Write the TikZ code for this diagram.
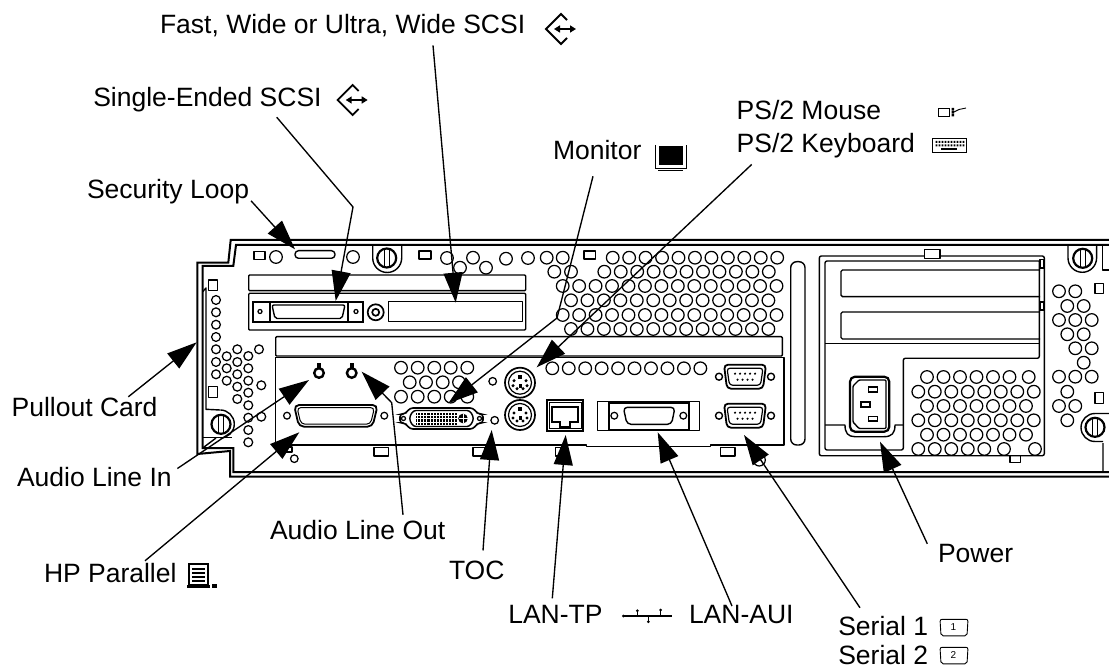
\documentclass[tikz,border=0pt]{standalone}
\usepackage{fontspec}
\setmainfont{Liberation Sans}
\usetikzlibrary{arrows.meta}
\usetikzlibrary{positioning}
\tikzset{>={Triangle[length=30pt,width=19pt]}}
\tikzset{
    lbl/.style={font=\fontsize{26.5}{30}\selectfont, inner sep=0pt, outer sep=0pt, anchor=base west},
    leader/.style={line width=1.35pt, ->},
    body/.style={line width=1.4pt, line join=round},
    thin line/.style={line width=0.9pt},
    hole/.style={line width=1.25pt},
    screwPic/.pic={
        \draw [line width=2.2pt] (0,0) circle (9.5);
        \draw [line width=1.2pt] (-2.5,-9) -- (-2.5,9) (2.5,-9) -- (2.5,9);
    },
    dshell/.pic={
        \draw [line width=1.8pt, rounded corners=4pt] (-21,-12) -- (21,-12) -- (18,12) -- (-18,12) -- cycle;
        \draw [line width=1.2pt, rounded corners=3pt] (-18,-8.5) -- (18,-8.5) -- (15.5,8.5) -- (-15.5,8.5) -- cycle;
        \foreach \x in {-10,-5,0,5,10} \fill (\x,-3) circle (1.2);
        \foreach \x in {-7.5,-2.5,2.5,7.5} \fill (\x,3) circle (1.2);
        \draw [body] (-26,0) circle (3.5) (26,0) circle (3.5);
    },
    ps2/.pic={
        \draw [line width=1.7pt] (0,0) circle (15);
        \draw [line width=1.2pt] (0,0) circle (11.5);
        \fill (-2,-8) rectangle (2,-4);
        \foreach \x/\y in {-6/-2,6/-2,-7/3,7/3,-3/6,3/6} \fill (\x,\y) circle (1.7);
        \fill (-1.5,1) rectangle (1.5,5);
    },
    scsiIcon/.pic={
        \draw [line width=1.8pt, line join=miter] (6,-9) -- (0,-15) -- (-15,0) -- (0,15) -- (6,9);
        \draw [line width=1.8pt, {Triangle[length=6pt,width=7pt]}-{Triangle[length=6pt,width=7pt]}] (-7,0) -- (15,0);
    },
    serialIcon/.pic={
        \draw [thin line, rounded corners=2pt] (-14,-8.5) -- (14,-8.5) -- (13,8) -- (-13,8) -- cycle;
    },
}

\begin{document}
\begin{tikzpicture}[x=1pt, y=-1pt]
    \useasboundingbox (0,0) rectangle (1109,668);

    % chassis
    \draw [line width=2pt, line join=miter] (1109,240) -- (230.7,240) -- (228.3,262.7) -- (197.3,262.7) -- (197.3,454) -- (230,451) -- (230,476.7) -- (1109,476.7);
    \draw [line width=2pt, line join=miter] (1109,245) -- (236,245) -- (233.3,266) -- (202.7,266) -- (202.7,448) -- (233.3,448) -- (233.3,472) -- (1109,472);
    \draw [body] (202.7,291.7) -- (206,288) -- (206,409.3) -- (220,410);
    \draw [body] (203,437.3) -- (232,437.3);
    \draw [body] (220.3,410) arc [start angle=-90, end angle=90, radius=14];
    \draw [body] (216,438) -- (202.7,448);

    % top strip
    \draw [body] (254,251.7) rectangle (265,259.3);
    \draw [body, rounded corners=3.5pt] (295,250.7) rectangle (335,258.3);
    \draw [body] (419,251) rectangle (431,259);
    \draw [body] (584,251) rectangle (595.7,259);
    \foreach \x/\y in {276/257, 353/257, 447/258, 473/257.7, 460/267.7, 486/267.7, 506/258.7, 528/258, 546.7/257.7, 562.7/257.7}
        \draw [hole] (\x,\y) circle (6.3);
    \draw [body] (372.7,245) -- (372.7,258) arc [start angle=180, end angle=0, radius=14.5] -- (401.7,245);
    \pic at (386.7,258) {screwPic};

    % grille
    \foreach \y/\xa/\n in {257.7/612.7/11, 271.7/604.3/11, 286/562.7/14, 300.3/571/13, 315/562.7/14, 329/571/13}
        \foreach \i in {1,...,\n}
            \draw [hole] ({\xa+(\i-1)*16.45},\y) circle (6.3);
    \foreach \x in {554.3,571}
        \draw [hole] (\x,271.7) circle (6.3);

    % card slots
    \draw [body, rounded corners=1pt] (248.7,275) rectangle (525.7,290.7);
    \draw [body, rounded corners=1pt] (248.7,293.3) rectangle (525.7,330);
    \draw [line width=1.8pt] (253.3,301.7) rectangle (362.7,322.3);
    \draw [body, rounded corners=2pt] (272,305) -- (345,305) -- (342,318.5) -- (275,318.5) -- cycle;
    \draw [body] (270,302) -- (270,322) (348,302) -- (348,322);
    \draw [hole] (260,311.5) circle (2) (356,311.5) circle (2);
    \draw [line width=1.7pt] (375.7,312.3) circle (8);
    \draw [line width=1.7pt] (375.7,312.3) circle (3.5);
    \draw [body] (388.3,301.7) rectangle (522.3,321.7);

    % left side holes
    \foreach \x/\y in {216/300, 216/312.3, 216/324.7, 216/337, 216/349.3, 216/362, 216/374.3}
        \draw [hole] (\x,\y) circle (4.4);
    \foreach \x/\y in {237.3/349.3, 259/349.3, 226.7/356.3, 248.3/356, 237.3/362, 226.7/368.3, 248.3/368.3, 237.3/374.3, 226.7/380.7, 248.3/380.7, 237.3/386.7, 261.3/385.3, 248.3/392.7, 237.3/399, 248.3/405.3, 248.3/417.7, 261.3/416.7, 248.3/430, 248.3/442.3}
        \draw [hole] (\x,\y) circle (4.4);
    \draw [body] (208.3,280) rectangle (217.3,290.7);
    \draw [body] (208.3,386.7) rectangle (217.3,397.3);
    \pic at (221,424.3) {screwPic};

    % I/O panel
    \draw [body, rounded corners=1pt] (275.7,336.7) rectangle (782.3,356);
    \draw [body] (275.7,445) -- (275.7,357.7) -- (784,357.7) -- (784,445) -- (710.7,445) -- (710.7,446.7) -- (586.7,446.7) -- (586.7,445) -- cycle;
    \foreach \x in {319,351.7} {
        \draw [line width=2.4pt] (\x,373) circle (4.8);
        \fill (\x-2,363) rectangle (\x+2,368);
    }
    \foreach \y in {367.7,396.7}
        \foreach \x in {401,417.7,434.3,450.7,467.3}
            \draw [hole] (\x,\y) circle (6.3);
    \foreach \x in {409.7,426,442.7,459}
        \draw [hole] (\x,382.3) circle (6.3);
    \foreach \i in {1,...,10}
        \draw [hole] ({552.3+(\i-1)*16.45},368.3) circle (6.3);
    \draw [hole] (492.7,381.3) circle (3.8);
    \draw [hole] (494.7,420.3) circle (3.8);
    % parallel
    \draw [line width=1.8pt, rounded corners=5pt] (294,405) -- (377.7,405) -- (372.5,426.7) -- (299,426.7) -- cycle;
    \draw [line width=1pt, rounded corners=4pt] (297,407.5) -- (374.5,407.5) -- (370.5,424.2) -- (301,424.2) -- cycle;
    \draw [hole] (287,415.7) circle (3.4) (384.3,415.7) circle (3.4);
    % dvi
    \draw [line width=1.6pt, rounded corners=3pt] (410,408) -- (473,408) -- (478,414) -- (483,414) -- (483,423) -- (478,423) -- (473,429) -- (410,429) -- (405,423) -- (400,423) -- (400,414) -- (405,414) -- cycle;
    \draw [body, rounded corners=3pt] (413,410.5) -- (470,410.5) -- (474,418.5) -- (470,426.5) -- (413,426.5) -- (409,418.5) -- cycle;
    \fill (416,412.7) rectangle (457,425);
    \foreach \x in {417.5,420.6,...,456}
        \draw [white, line width=0.7pt] (\x,412.7) -- (\x,425);
    \foreach \y in {415.5,418.8,422.1}
        \draw [white, line width=0.7pt] (416,\y) -- (457,\y);
    \fill (463,418.5) circle (4.8);
    \draw [white, line width=0.8pt] (463,414) -- (463,423) (458.5,418.5) -- (467.5,418.5);
    \draw [hole] (403.5,418.5) circle (2) (479.5,418.5) circle (2);
    % ps/2
    \pic at (520,382.7) {ps2};
    \pic at (520,415) {ps2};
    % rj45
    \draw [line width=2.2pt] (547.3,400) rectangle (583.3,430.7);
    \draw [line width=0.8pt] (549.5,402.5) rectangle (581,428.5);
    \draw [line width=1.7pt] (551.7,406.7) -- (578.3,406.7) -- (578.3,421.7) -- (570,421.7) -- (570,426.7) -- (560,426.7) -- (560,421.7) -- (551.7,421.7) -- cycle;
    % aui
    \draw [body] (597.7,401.7) rectangle (699.3,430.7);
    \draw [line width=1.8pt] (609.3,403) -- (609.3,430) -- (689.3,430) -- (689.3,403) -- cycle;
    \draw [body, rounded corners=4pt] (623.3,407.3) -- (675,407.3) -- (671.5,424.3) -- (627,424.3) -- cycle;
    \draw [hole] (614.3,415.7) circle (3.4) (683.3,415.7) circle (3.4);
    % serial
    \pic at (745,376.7) {dshell};
    \pic at (745,415.7) {dshell};
    % tabs under panel
    \foreach \xa/\xb/\ya/\yb in {285/292/447/452, 374/388.3/447.3/456, 473/485/447.3/456, 555.7/563/447.3/456, 720.7/735/447.3/456}
        \draw [body] (\xa,\ya) rectangle (\xb,\yb);
    \draw [hole] (294.3,458.7) circle (3.8);
    \draw [hole] (759.3,460) circle (6);
    \draw [body, rounded corners=6pt] (790.7,261.7) rectangle (805,445);

    % power supply
    \draw [body, rounded corners=2pt] (819.3,256) rectangle (1044.3,455.7);
    \draw [body, fill=white] (924.3,249.3) rectangle (940,258.3);
    \draw [body] (1010,455.7) rectangle (1020.7,462.3);
    \draw [body, rounded corners=2pt] (1039.3,261) -- (825,261) -- (825,450) -- (903.3,450) -- (903.3,358.3) -- (1039.3,358.3) -- (1039.3,261);
    \draw [body] (825,343.3) -- (1039.3,343.3);
    \draw [body, rounded corners=1.5pt] (1040,270) -- (841,270) -- (841,296.7) -- (1040,296.7);
    \draw [body, rounded corners=1.5pt] (1040,312) -- (841,312) -- (841,339) -- (1040,339);
    \draw [body] (1040,259.5) rectangle (1044,268) (1040,302) rectangle (1044,310);
    \draw [body] (825,425) -- (845,425) .. controls (845,433) and (848,436.7) .. (855,436.7) -- (884,436.7) .. controls (892,436.7) and (895,433) .. (895,425) -- (903.3,425);
    \draw [line width=2.2pt, rounded corners=5pt] (850,376.7) rectangle (889.3,431.7);
    \draw [body, rounded corners=1pt] (859,380) -- (886,380) -- (886,428.5) -- (859,428.5) -- (853,422) -- (853,386) -- cycle;
    \foreach \xa/\ya in {868.3/387.3, 860.7/402, 868.3/416.3}
        \draw [line width=1.6pt] (\xa,\ya) rectangle ++(9,4.7);
    \foreach \y/\xa/\n in {377/927/6, 391.7/918.3/8, 406/927/7, 420.3/918.3/8, 434.7/927/7, 449/918.3/5}
        \foreach \i in {1,...,\n}
            \draw [hole] ({\xa+(\i-1)*16.5},\y) circle (6.3);
    \foreach \x/\y in {1028.7/377, 1004/449, 1035/449}
        \draw [hole] (\x,\y) circle (6.3);

    % right side
    \foreach \x/\y in {1059/291.3, 1075.3/291.3, 1067.3/306, 1083.7/306, 1059/320, 1075.3/320, 1091.7/320, 1067.3/334.3, 1083.7/334.3, 1075.3/348.3, 1091.7/348.3, 1083.7/362.7, 1059/376.7, 1075.3/376.7, 1091.7/376.7, 1067.3/391.7, 1059/406, 1075.3/406, 1067.3/420.3}
        \draw [hole] (\x,\y) circle (6.3);
    \draw [body] (1095,283.3) rectangle (1103.3,293.3);
    \draw [body] (1095,392.3) rectangle (1103.3,403.3);
    \draw [body] (1068,245) -- (1068,258) arc [start angle=180, end angle=0, radius=14.3] -- (1096.7,245);
    \pic at (1082.7,258.3) {screwPic};
    \draw [body] (1102.7,245) -- (1102.7,270) -- (1109,270);
    \pic at (1095,427.3) {screwPic};
    \draw [body] (1109,413.5) -- (1095,413.5) arc [start angle=-90, end angle=-270, radius=14] -- (1103,441.5) (1103,443) -- (1103,472);

    % labels
    \node [lbl] (lblFast) at (160,33.5) {Fast, Wide or Ultra, Wide SCSI};
    \node [lbl] (lblSingle) at (93.3,106.7) {Single-Ended SCSI};
    \node [lbl] (lblLoop) at (87,198.3) {Security Loop};
    \node [lbl] (lblMonitor) at (553,160) {Monitor};
    \node [lbl] (lblMouse) at (736.7,120) {PS/2 Mouse};
    \node [lbl, below=13.5pt of lblMouse.south west, anchor=north west] (lblKeyboard) {PS/2 Keyboard};
    \node [lbl] (lblPullout) at (11.7,416.7) {Pullout Card};
    \node [lbl] (lblAudioIn) at (17,486.7) {Audio Line In};
    \node [lbl] (lblAudioOut) at (270,539) {Audio Line Out};
    \node [lbl] (lblParallel) at (44,582) {HP Parallel};
    \node [lbl] (lblToc) at (449,579) {TOC};
    \node [lbl] (lblTp) at (508.3,623.3) {LAN-TP};
    \node [lbl] (lblAui) at (689,623.3) {LAN-AUI};
    \node [lbl] (lblSerialA) at (838.3,635) {Serial 1};
    \node [lbl] (lblSerialB) at (838.3,664) {Serial 2};
    \node [lbl] (lblPower) at (938,562) {Power};

    % connector ends
    \coordinate (tipFast) at (455.7,302.7);
    \coordinate (bendSingle) at (353,207);
    \coordinate (tipSingle) at (335.7,301);
    \coordinate (tipLoop) at (295,249.3);
    \coordinate (bendMonitor) at (557,318);
    \coordinate (tipMonitor) at (448.3,403.3);
    \coordinate (tipKeyboard) at (536.7,367.3);
    \coordinate (tipPullout) at (196.7,342.3);
    \coordinate (tipAudioIn) at (309,380);
    \coordinate (bendAudioOut) at (391.7,402.7);
    \coordinate (tipAudioOut) at (361.7,371.7);
    \coordinate (tipParallel) at (299.3,432.3);
    \coordinate (tipToc) at (491.7,430);
    \coordinate (tipTp) at (565.7,435);
    \coordinate (tipAui) at (657.7,432.3);
    \coordinate (tipSerial) at (744,435);
    \coordinate (tipPower) at (880,441.7);

    % arrows
    \draw [leader] ([shift={(273,8.5)}]lblFast.south west) -- (tipFast);
    \draw [leader] ([shift={(183.4,5)}]lblSingle.south west) -- (bendSingle) -- (tipSingle);
    \draw [leader] ([shift={(2,-3)}]lblLoop.south east) -- (tipLoop);
    \draw [leader] ([shift={(40,16)}]lblMonitor.south west) -- (bendMonitor) -- (tipMonitor);
    \draw [leader] ([shift={(15,6)}]lblKeyboard.south west) -- (tipKeyboard);
    \draw [leader] ([shift={(116.6,-0.7)}]lblPullout.north west) -- (tipPullout);
    \draw [leader] ([shift={(5.7,1)}]lblAudioIn.north east) -- (tipAudioIn);
    \draw [leader] ([shift={(133,-5)}]lblAudioOut.north west) -- (bendAudioOut) -- (tipAudioOut);
    \draw [leader] ([shift={(101,-2)}]lblParallel.north west) -- (tipParallel);
    \draw [leader] ([shift={(34,-10)}]lblToc.north west) -- (tipToc);
    \draw [leader] ([shift={(44,-6.7)}]lblTp.north west) -- (tipTp);
    \draw [leader] ([shift={(43,1)}]lblAui.north west) -- (tipAui);
    \draw [leader] ([shift={(21.7,-8)}]lblSerialA.north west) -- (tipSerial);
    \draw [leader] ([shift={(-10.7,0)}]lblPower.north west) -- (tipPower);

    % icons
    \pic at (352.7,100) {scsiIcon};
    \pic at (561,29) {scsiIcon};
    % monitor
    \fill (659.3,146) rectangle (683.3,165);
    \draw [thin line] (655.7,145) -- (655.7,168.3) -- (686.7,168.3) -- (686.7,145);
    \draw [thin line] (658,170.5) -- (683,170.5);
    % mouse
    \draw [thin line] (938.3,108.3) rectangle (949.3,116.7);
    \fill (951.5,108) rectangle (954,110.5) (951.5,111) rectangle (954,113.5) (951.5,114) rectangle (954,116.5);
    \draw [thin line] (954,112) -- (959,109.5) -- (966,108);
    % keyboard
    \draw [thin line] (932.7,138.3) rectangle (966,152.3);
    \foreach \x in {935.5,938.5,...,962.5}
        \fill (\x,141) rectangle ++(1.8,2) (\x,144.3) rectangle ++(1.8,2);
    \fill (941,147.6) rectangle (957,149.6);
    % lan
    \draw [line width=1.4pt] (623.3,616) -- (671.7,616);
    \draw [line width=1.3pt] (637.3,616) -- (637.3,610.7) (660.7,616) -- (660.7,610) (648.3,616) -- (648.3,621.7);
    \fill (623.3,616) circle (1.5) (637.3,610.7) circle (1.5) (660.7,610) circle (1.5) (648.3,621.7) circle (1.5);
    % serial boxes
    \pic at (954,627.8) {serialIcon};
    \pic at (954,655.8) {serialIcon};
    \node [font=\fontsize{10}{10}\selectfont, inner sep=0pt] (numOne) at (953.5,627.5) {1};
    \node [font=\fontsize{10}{10}\selectfont, inner sep=0pt] (numTwo) at (953.5,655.5) {2};
    % printer
    \draw [line width=1.5pt] (189,564) rectangle (208,585);
    \foreach \y in {569,573,577,581}
        \draw [line width=1.2pt] (192,\y) -- (205,\y);
    \fill (187,584.5) rectangle (210,587.5);
    \fill (212,583.5) rectangle (217,587.5);
\end{tikzpicture}
\end{document}
